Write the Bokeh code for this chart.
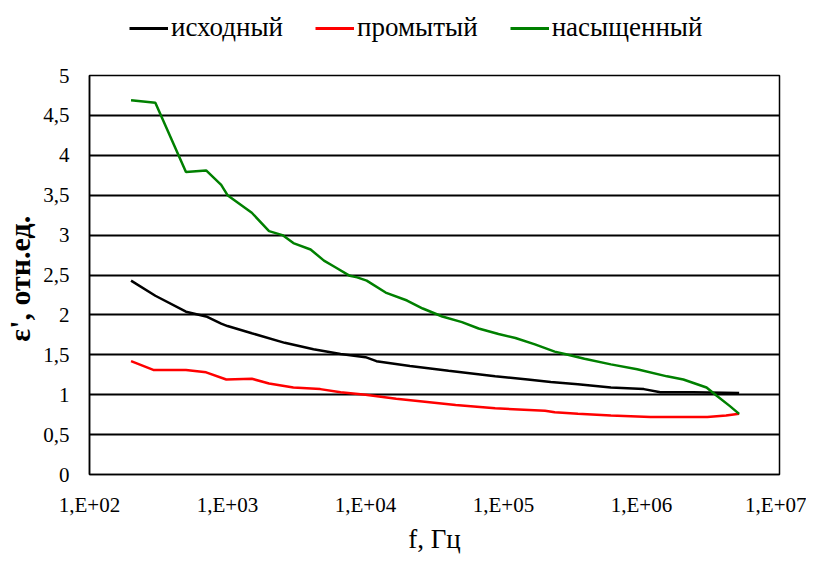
from bokeh.plotting import figure
from bokeh.models import Range1d, FixedTicker, Legend, LegendItem
from bokeh.layouts import column
from bokeh.embed import file_html
from bokeh.resources import INLINE

# ---- data ----
f_initial = [200, 300, 500, 700, 900, 1000, 1500, 2600, 4200, 6600, 10000, 12000,
             21000, 40000, 87000, 150000, 220000, 346000, 600000, 1040000, 1370000,
             2370000, 5100000]
eps_initial = [2.43, 2.24, 2.04, 1.98, 1.89, 1.86, 1.77, 1.65, 1.57, 1.51, 1.47, 1.42,
               1.36, 1.30, 1.23, 1.19, 1.16, 1.13, 1.09, 1.07, 1.03, 1.03, 1.02]

f_washed = [200, 290, 500, 700, 980, 1500, 2000, 3000, 4700, 6600, 10000, 16700,
            45000, 87000, 200000, 235000, 346000, 600000, 1160000, 3000000, 4100000, 5100000]
eps_washed = [1.42, 1.31, 1.31, 1.28, 1.19, 1.20, 1.14, 1.09, 1.07, 1.03, 1.00, 0.95,
              0.87, 0.83, 0.80, 0.78, 0.76, 0.74, 0.72, 0.72, 0.74, 0.76]

f_saturated = [200, 300, 500, 700, 900, 1000, 1500, 2000, 2500, 3000, 4000, 5000, 6000,
               7700, 8700, 10200, 14000, 20000, 26000, 36000, 50000, 66000, 92000,
               122000, 169000, 235000, 278000, 386000, 600000, 930000, 1530000,
               2010000, 2960000, 3490000, 4350000, 5100000]
eps_saturated = [4.69, 4.66, 3.79, 3.81, 3.63, 3.50, 3.28, 3.05, 3.00, 2.90, 2.82, 2.68, 2.60,
                 2.49, 2.47, 2.43, 2.28, 2.18, 2.08, 1.98, 1.91, 1.83, 1.76,
                 1.71, 1.63, 1.54, 1.51, 1.45, 1.38, 1.32, 1.23,
                 1.19, 1.09, 0.99, 0.86, 0.76]

series_names = ["исходный", "промытый", "насыщенный"]
series_colors = ["#000000", "#FF0000", "#008000"]

x_ticks = [1e2, 1e3, 1e4, 1e5, 1e6, 1e7]
x_tick_labels = ["1,E+02", "1,E+03", "1,E+04", "1,E+05", "1,E+06", "1,E+07"]
y_ticks = [0, 0.5, 1, 1.5, 2, 2.5, 3, 3.5, 4, 4.5, 5]
y_tick_labels = ["0", "0,5", "1", "1,5", "2", "2,5", "3", "3,5", "4", "4,5", "5"]

FONT = "Liberation Serif"
series_x = [f_initial, f_washed, f_saturated]
series_y = [eps_initial, eps_washed, eps_saturated]

# ---- legend strip (separate small figure, whole area is its frame) ----
LEG_H = 50
leg = figure(width=806, height=LEG_H, x_range=Range1d(0, 1), y_range=Range1d(0, 1),
             output_backend="svg", toolbar_location=None,
             x_axis_location=None, y_axis_location=None,
             min_border_left=0, min_border_right=0, min_border_top=0, min_border_bottom=0)
leg.outline_line_color = None
leg.xgrid.grid_line_color = None
leg.ygrid.grid_line_color = None
leg_renderers = [leg.line(fx, ey, line_color=c, line_width=3)
                 for fx, ey, c in zip(series_x, series_y, series_colors)]
legend = Legend(items=[LegendItem(label=n, renderers=[r]) for n, r in zip(series_names, leg_renderers)],
                orientation="horizontal", location=(40, 7),
                label_text_font=FONT, label_text_font_size="27px", label_text_color="black",
                glyph_width=39, glyph_height=20, label_standoff=3, spacing=32,
                padding=0, margin=0, border_line_color=None,
                background_fill_alpha=0)
leg.add_layout(legend, "center")

# ---- main chart ----
p = figure(width=806, height=556 - LEG_H, x_axis_type="log",
           x_range=Range1d(1e2, 1e7), y_range=Range1d(0, 5),
           output_backend="svg", toolbar_location=None,
           min_border_left=82, min_border_right=27,
           min_border_top=25, min_border_bottom=78)

p.background_fill_color = "white"
p.border_fill_color = "white"
p.outline_line_color = "black"
p.outline_line_width = 1.5

for fx, ey, c in zip(series_x, series_y, series_colors):
    p.line(fx, ey, line_color=c, line_width=2.5)

p.xaxis.ticker = FixedTicker(ticks=x_ticks)
p.xaxis.major_label_overrides = {t: l for t, l in zip(x_ticks, x_tick_labels)}
p.yaxis.ticker = FixedTicker(ticks=y_ticks)
p.yaxis.major_label_overrides = {t: l for t, l in zip(y_ticks, y_tick_labels)}

for ax in (p.xaxis[0], p.yaxis[0]):
    ax.major_tick_line_color = None
    ax.minor_tick_line_color = None
    ax.axis_line_color = "black"
    ax.axis_line_width = 1.5
    ax.major_label_text_font = FONT
    ax.major_label_text_font_size = "21px"
    ax.major_label_text_color = "black"
    ax.axis_label_text_font = FONT
    ax.axis_label_text_color = "black"

p.xaxis.major_label_standoff = 12
p.yaxis.major_label_standoff = 14

p.xaxis.axis_label = "f, Гц"
p.xaxis.axis_label_text_font_size = "27px"
p.xaxis.axis_label_text_font_style = "normal"
p.xaxis.axis_label_standoff = 4

p.yaxis.axis_label = "ε',  отн.ед."
p.yaxis.axis_label_text_font_size = "30px"
p.yaxis.axis_label_text_font_style = "bold"
p.yaxis.axis_label_standoff = 4

p.xgrid.grid_line_color = None
p.ygrid.grid_line_color = "black"
p.ygrid.grid_line_width = 2

layout = column(leg, p, spacing=0)
open("out.html", "w").write(file_html(layout, INLINE))
